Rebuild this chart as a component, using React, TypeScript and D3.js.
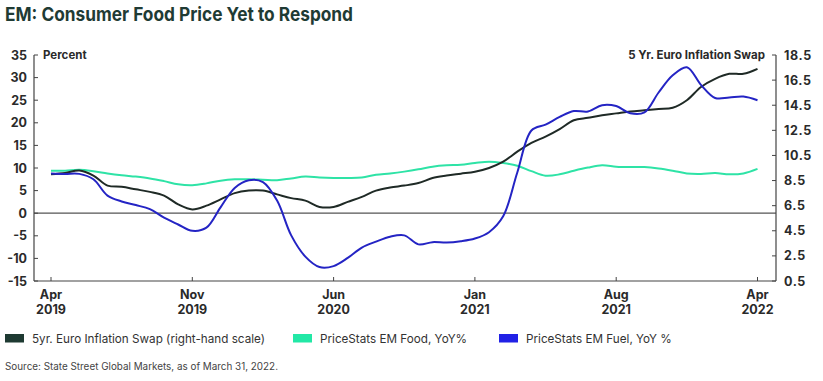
import React from "react";
import * as d3 from "d3";

// ---- Data (sampled at equal steps; ticks every 10 samples) ----
const tickLabels: [string, string][] = [
  ["Apr", "2019"],
  ["Nov", "2019"],
  ["Jun", "2020"],
  ["Jan", "2021"],
  ["Aug", "2021"],
  ["Apr", "2022"],
];

// 5yr Euro Inflation Swap (right-hand scale)
const swapValues: number[] = [
  9.0, 9.1, 9.3, 8.9, 8.1, 8.0, 7.8, 7.6, 7.3, 6.6,
  6.2, 6.5, 7.0, 7.5, 7.7, 7.7, 7.4, 7.1, 6.9, 6.4,
  6.4, 6.8, 7.2, 7.7, 7.95, 8.1, 8.3, 8.7, 8.9, 9.05,
  9.2, 9.5, 10.0, 10.8, 11.5, 12.0, 12.6, 13.3, 13.5, 13.7,
  13.85, 14.0, 14.1, 14.2, 14.3, 14.9, 15.95, 16.6, 17.0, 17.0,
  17.4,
];

// PriceStats EM Food, YoY%
const foodValues: number[] = [
  9.4, 9.4, 9.6, 9.3, 8.8, 8.4, 8.1, 7.7, 7.1, 6.4,
  6.2, 6.6, 7.2, 7.5, 7.5, 7.4, 7.3, 7.7, 8.1, 7.9,
  7.8, 7.8, 7.9, 8.5, 8.8, 9.2, 9.7, 10.3, 10.6, 10.7,
  11.1, 11.4, 11.1, 10.5, 9.3, 8.3, 8.6, 9.4, 10.1, 10.6,
  10.3, 10.2, 10.2, 9.9, 9.4, 8.8, 8.7, 8.9, 8.6, 8.8,
  9.8,
];

// PriceStats EM Fuel, YoY %
const fuelValues: number[] = [
  8.8, 8.7, 8.7, 7.5, 3.9, 2.6, 1.8, 0.9, -1.0, -2.5,
  -3.9, -3.2, 1.3, 5.6, 7.3, 6.9, 2.8, -4.9, -9.6, -11.9,
  -11.7, -9.9, -7.6, -6.3, -5.2, -4.9, -6.9, -6.4, -6.5, -6.2,
  -5.6, -4.2, -0.7, 9.0, 18.3, 19.6, 21.3, 22.6, 22.5, 23.9,
  23.7, 22.1, 22.3, 26.7, 30.5, 32.3, 28.4, 25.5, 25.6, 25.8,
  25.0,
];

const leftTicks: number[] = [35, 30, 25, 20, 15, 10, 5, 0, -5, -10, -15];
const rightTicks: number[] = [18.5, 16.5, 14.5, 12.5, 10.5, 8.5, 6.5, 4.5, 2.5, 0.5];

const legendItems = [
  { label: "5yr. Euro Inflation Swap (right-hand scale)", color: "#1e3a32", x: 5 },
  { label: "PriceStats EM Food, YoY%", color: "#22e8a6", x: 293 },
  { label: "PriceStats EM Fuel, YoY %", color: "#2121e6", x: 499 },
];

const W = 823;
const H = 381;
const plotLeft = 34;
const plotRight = 776;
const plotTop = 55;
const plotBottom = 281;

const FONT = "Inter, 'Open Sans', 'Liberation Sans', sans-serif";
const TEXT = "#2a2a2a";

export default function App() {
  const x = d3.scaleLinear().domain([0, swapValues.length - 1]).range([51, 757.5]);
  const yL = d3.scaleLinear().domain([-15, 35]).range([plotBottom, plotTop]);
  const yR = d3.scaleLinear().domain([0.5, 18.5]).range([plotBottom, plotTop]);

  const curve = d3.curveCatmullRom.alpha(0.5);
  const lineL = d3
    .line<number>()
    .x((_, i) => x(i))
    .y((d) => yL(d))
    .curve(curve);
  const lineR = d3
    .line<number>()
    .x((_, i) => x(i))
    .y((d) => yR(d))
    .curve(curve);

  const tickIdx = tickLabels.map((_, i) => i * 10);

  return (
    <svg
      width={W}
      height={H}
      viewBox={`0 0 ${W} ${H}`}
      style={{ position: "absolute", left: 0, top: 0, background: "#fff" }}
      fontFamily={FONT}
    >
      {/* Title */}
      <text
        x={5}
        y={21}
        fontSize={19}
        fontWeight={700}
        fill="#1f3b34"
        textLength={348}
        lengthAdjust="spacingAndGlyphs"
      >
        EM: Consumer Food Price Yet to Respond
      </text>

      {/* axis titles */}
      <text x={43} y={59} fontSize={11.5} fontWeight={700} fill={TEXT}>
        Percent
      </text>
      <text x={765} y={59} fontSize={11.5} fontWeight={700} fill={TEXT} textAnchor="end">
        5 Yr. Euro Inflation Swap
      </text>

      {/* zero line */}
      <line x1={plotLeft} x2={plotRight} y1={yL(0)} y2={yL(0)} stroke="#555" strokeWidth={1.2} />

      {/* axes */}
      <line x1={plotLeft} x2={plotLeft} y1={plotTop} y2={plotBottom} stroke="#444" strokeWidth={1.2} />
      <line x1={plotRight} x2={plotRight} y1={plotTop} y2={plotBottom} stroke="#444" strokeWidth={1.2} />
      <line x1={plotLeft} x2={plotRight} y1={plotBottom} y2={plotBottom} stroke="#444" strokeWidth={1.2} />

      {/* left ticks */}
      {leftTicks.map((t) => (
        <g key={"l" + t}>
          <line x1={plotLeft} x2={plotLeft + 4} y1={yL(t)} y2={yL(t)} stroke="#444" strokeWidth={1} />
          <text
            x={27}
            y={yL(t)}
            dy="0.36em"
            textAnchor="end"
            fontSize={12.5}
            fontWeight={700}
            fill={TEXT}
          >
            {t}
          </text>
        </g>
      ))}

      {/* right ticks */}
      {rightTicks.map((t) => (
        <g key={"r" + t}>
          <line x1={plotRight - 4} x2={plotRight} y1={yR(t)} y2={yR(t)} stroke="#444" strokeWidth={1} />
          <text
            x={784}
            y={yR(t)}
            dy="0.36em"
            fontSize={12.5}
            fontWeight={700}
            fill={TEXT}
            letterSpacing={0.6}
          >
            {t.toFixed(1)}
          </text>
        </g>
      ))}

      {/* bottom ticks */}
      {tickIdx.map((ti, k) => (
        <g key={"b" + ti}>
          <line x1={x(ti)} x2={x(ti)} y1={plotBottom} y2={plotBottom - 4} stroke="#444" strokeWidth={1} />
          <text x={x(ti)} y={299} textAnchor="middle" fontSize={12.5} fontWeight={700} fill={TEXT}>
            {tickLabels[k][0]}
          </text>
          <text x={x(ti)} y={313.5} textAnchor="middle" fontSize={12.5} fontWeight={700} fill={TEXT}>
            {tickLabels[k][1]}
          </text>
        </g>
      ))}

      {/* series */}
      <path d={lineL(foodValues) || ""} fill="none" stroke="#2ee3a6" strokeWidth={2} />
      <path d={lineR(swapValues) || ""} fill="none" stroke="#1f2a26" strokeWidth={2} />
      <path d={lineL(fuelValues) || ""} fill="none" stroke="#2424c4" strokeWidth={2} />

      {/* legend */}
      {legendItems.map((it) => (
        <g key={it.label}>
          <rect x={it.x} y={334} width={19} height={8.5} fill={it.color} />
          <text x={it.x + 27} y={342.5} fontSize={11.7} fill="#333">
            {it.label}
          </text>
        </g>
      ))}

      {/* source */}
      <text x={5} y={370} fontSize={9.9} fill="#444">
        Source: State Street Global Markets, as of March 31, 2022.
      </text>
    </svg>
  );
}
